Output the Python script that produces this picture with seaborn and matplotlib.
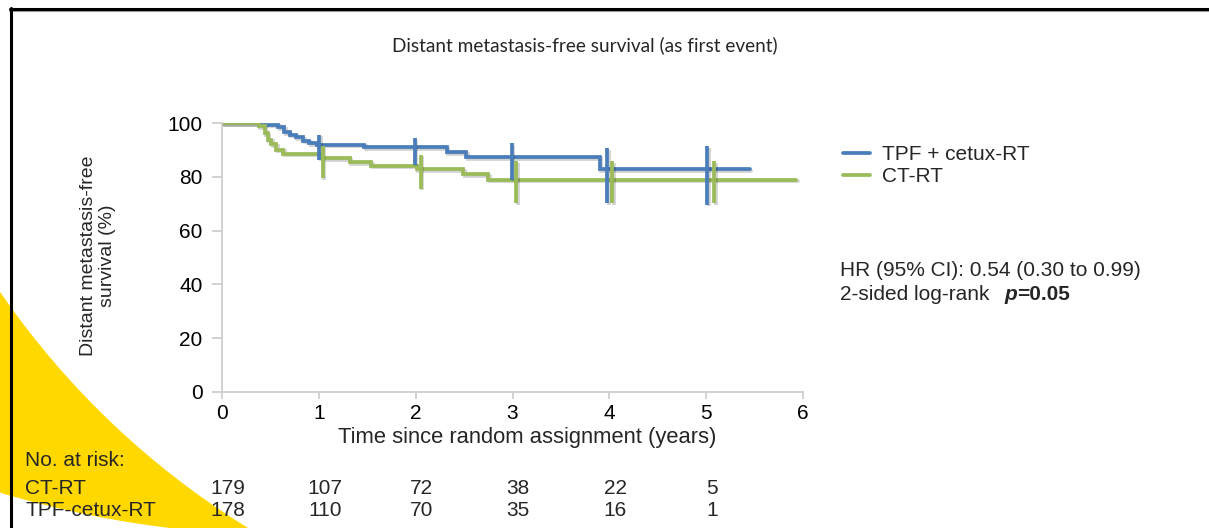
import numpy as np
import pandas as pd
import matplotlib
matplotlib.use("Agg")
import matplotlib.pyplot as plt
import seaborn as sns
from matplotlib import patheffects as pe
from matplotlib.patches import Circle
from matplotlib.lines import Line2D
from matplotlib.transforms import IdentityTransform, blended_transform_factory

# ---------------- data ----------------
arms = ["TPF + cetux-RT", "CT-RT"]
tpf_time = [0, 0.38, 0.58, 0.64, 0.70, 0.76, 0.84, 0.90, 0.98, 1.47, 2.32, 2.52, 3.90, 5.45]
tpf_surv = [100, 99.4, 98.4, 96.6, 95.7, 94.7, 93.5, 92.6, 92.0, 91.1, 89.3, 87.4, 82.9, 82.9]
ct_time = [0, 0.38, 0.44, 0.47, 0.51, 0.56, 0.63, 1.03, 1.32, 1.54, 2.01, 2.49, 2.75, 5.93]
ct_surv = [100, 98.8, 96.3, 93.9, 92.2, 90.1, 88.7, 87.0, 85.4, 84.2, 82.9, 81.1, 79.0, 79.0]

tpf_cens_time = [1.00, 1.99, 2.99, 3.98, 5.01]
tpf_cens_lo = [86.4, 84.6, 79.0, 70.3, 69.7]
tpf_cens_hi = [95.7, 94.5, 92.6, 90.7, 91.4]
ct_cens_time = [1.04, 2.05, 3.04, 4.03, 5.08]
ct_cens_lo = [79.6, 75.6, 70.3, 70.3, 70.3]
ct_cens_hi = [91.4, 88.3, 85.8, 85.8, 85.8]

risk_times = [0, 1, 2, 3, 4, 5]
risk_labels = ["CT-RT", "TPF-cetux-RT"]
risk_ct = [179, 107, 72, 38, 22, 5]
risk_tpf = [178, 110, 70, 35, 16, 1]

x_ticks = [0, 1, 2, 3, 4, 5, 6]
y_ticks = [0, 20, 40, 60, 80, 100]

title = "Distant metastasis-free survival (as first event)"
xlabel = "Time since random assignment (years)"
ylabel = "Distant metastasis-free\nsurvival (%)"
hr_text = "HR (95% CI): 0.54 (0.30 to 0.99)"

# ---------------- style ----------------
sns.set_style("white")
plt.rcParams["font.family"] = ["Liberation Sans", "DejaVu Sans"]

BLUE = "#4A7EBB"
GREEN = "#9BBB59"
palette = {arms[0]: BLUE, arms[1]: GREEN}
AXC = "#cfcfcf"
FS = 15
LW = 2.7

W, H = 1209, 528
fig = plt.figure(figsize=(W / 100, H / 100), dpi=100)
fig.patch.set_facecolor("white")

# decorative yellow swoosh (crescent between two circles), pixel coordinates
fig.add_artist(Circle((293.5, H + 491.5), 1027, transform=IdentityTransform(),
                      facecolor="#FFD800", edgecolor="none", zorder=0))
fig.add_artist(Circle((682, H + 176), 827, transform=IdentityTransform(),
                      facecolor="white", edgecolor="none", zorder=0.1))
# slide border
fig.add_artist(Line2D([10, W], [H - 10.5, H - 10.5], transform=IdentityTransform(),
                      color="#9a9a9a", lw=1.5, zorder=1))
fig.add_artist(Line2D([10, W], [H - 8.5, H - 8.5], transform=IdentityTransform(),
                      color="black", lw=2.2, zorder=1))
fig.add_artist(Line2D([11, 11], [0, H - 8], transform=IdentityTransform(),
                      color="black", lw=2.2, zorder=1))

ax = fig.add_axes([222 / W, (H - 391.7) / H, (803 - 222) / W, (391.7 - 123.2) / H])
ax.set_facecolor("none")
ax.set_zorder(2)

df = pd.concat([
    pd.DataFrame({"time": tpf_time, "surv": tpf_surv, "arm": arms[0]}),
    pd.DataFrame({"time": ct_time, "surv": ct_surv, "arm": arms[1]}),
], ignore_index=True)

shadow = [pe.SimpleLineShadow(offset=(1.2, -1.2), shadow_color="black", alpha=0.18), pe.Normal()]

sns.lineplot(data=df, x="time", y="surv", hue="arm", palette=palette,
             estimator=None, sort=False, drawstyle="steps-post",
             linewidth=LW, legend=False, ax=ax)
for ln in ax.lines:
    ln.set_path_effects(shadow)
    ln.set_solid_joinstyle("miter")

ax.vlines(tpf_cens_time, tpf_cens_lo, tpf_cens_hi, colors=BLUE, linewidth=LW,
          path_effects=shadow, zorder=3)
ax.vlines(ct_cens_time, ct_cens_lo, ct_cens_hi, colors=GREEN, linewidth=LW,
          path_effects=shadow, zorder=3)

ax.set_xlim(0, 6)
ax.set_ylim(0, 100)
ax.set_xticks(x_ticks)
ax.set_yticks(y_ticks)
ax.set_xlabel("")
ax.set_ylabel("")
for s in ["top", "right"]:
    ax.spines[s].set_visible(False)
for s in ["left", "bottom"]:
    ax.spines[s].set_color(AXC)
    ax.spines[s].set_linewidth(1.3)
ax.tick_params(axis="y", direction="out", length=7, width=1.3, color=AXC,
               labelsize=FS, labelcolor="black", pad=7, left=True)
ax.tick_params(axis="x", direction="out", length=5, width=1.3, color=AXC,
               labelsize=FS, labelcolor="black", pad=4, bottom=True)

# legend
handles = [Line2D([], [], color=BLUE, lw=LW), Line2D([], [], color=GREEN, lw=LW)]
fig.legend(handles, arms, loc="upper left", bbox_to_anchor=(843 / W, (H - 145) / H),
           frameon=False, fontsize=FS, handlelength=1.3, handletextpad=0.55,
           borderpad=0, borderaxespad=0, labelspacing=0.15)

# titles and labels
fig.text(585 / W, (H - 45) / H, title, ha="center", va="center", fontsize=13.7,
         family=["Lato", "DejaVu Sans"])
fig.text(527 / W, (H - 438) / H, xlabel, ha="center", va="center", fontsize=15.8)
fig.text(98 / W, (H - 256) / H, ylabel, ha="center", va="center", rotation=90,
         fontsize=14, multialignment="center", linespacing=1.15)

# HR annotation
fig.text(840 / W, (H - 270) / H, hr_text, ha="left", va="center", fontsize=FS)
fig.text(840 / W, (H - 295) / H, "2-sided log-rank", ha="left", va="center", fontsize=FS)
fig.text(1004 / W, (H - 295) / H, "p", ha="left", va="center", fontsize=FS,
         fontweight="bold", fontstyle="italic")
fig.text(1017 / W, (H - 295) / H, "=0.05", ha="left", va="center", fontsize=FS,
         fontweight="bold")

# numbers at risk
fig.text(25 / W, (H - 461) / H, "No. at risk:", ha="left", va="center", fontsize=FS)
trans = blended_transform_factory(ax.transData, fig.transFigure)
for row_y, lab, vals in [(488, risk_labels[0], risk_ct), (510, risk_labels[1], risk_tpf)]:
    fig.text(25 / W, (H - row_y) / H, lab, ha="left", va="center", fontsize=FS)
    for t, v in zip(risk_times, vals):
        ax.text(t + 0.06, (H - row_y) / H, str(v), transform=trans, ha="center",
                va="center", fontsize=FS, clip_on=False)

fig.savefig("out.png", dpi=100)
